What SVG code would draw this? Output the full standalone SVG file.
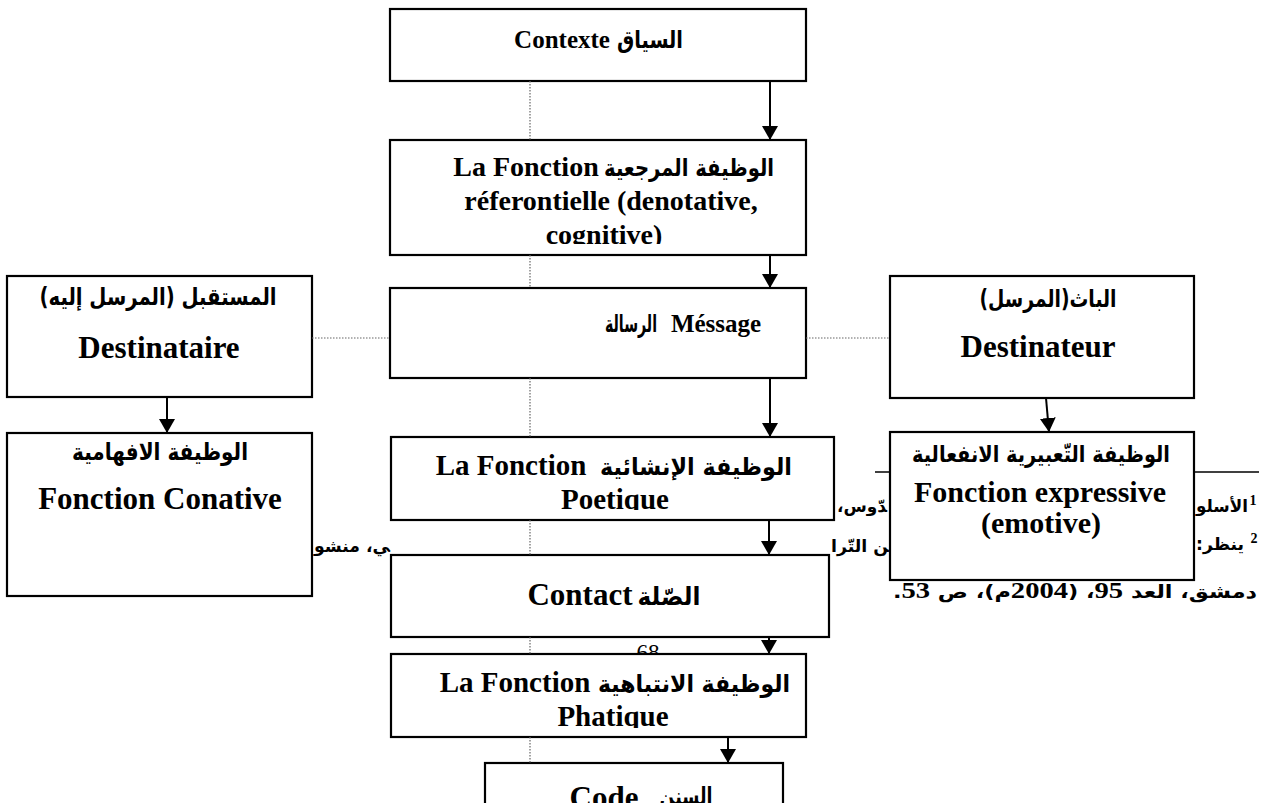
<svg xmlns="http://www.w3.org/2000/svg" width="1270" height="803" viewBox="0 0 1270 803">
  <style>
    .box { fill: #fff; stroke: #000; stroke-width: 2.2; }
    .lat { font-family: "Liberation Serif", "Times New Roman", serif; font-weight: bold; fill: #000; }
    .ar  { font-family: "DejaVu Sans", "Noto Sans", sans-serif; font-weight: bold; fill: #000; direction: rtl; }
    .arrow { stroke: #000; stroke-width: 2; fill: none; marker-end: url(#head); }
    .dots { stroke: #666; stroke-width: 1.2; stroke-dasharray: 1.5 1.5; fill: none; }
    .fn  { font-family: "DejaVu Sans", "Noto Sans", sans-serif; font-weight: bold; fill: #000; direction: rtl; }
    .fnum { font-family: "Liberation Serif", "Times New Roman", serif; font-weight: bold; }
  </style>
  <defs>
    <marker id="head" markerUnits="userSpaceOnUse" markerWidth="16" markerHeight="16" refX="14" refY="8" orient="auto">
      <path d="M0,0 L14,8 L0,16 z" fill="#000"/>
    </marker>
    <clipPath id="clipRef"><rect x="390" y="140" width="416" height="104"/></clipPath>
    <clipPath id="clipPoet"><rect x="391" y="437" width="443" height="73"/></clipPath>
    <clipPath id="clipPhat"><rect x="391" y="654" width="415" height="74"/></clipPath>
  </defs>

  <rect width="1270" height="803" fill="#fff"/>

  <!-- page footnotes and page number, lying under the frames -->
  <g id="footnotes">
    <line x1="875" y1="472" x2="1259" y2="472" stroke="#000" stroke-width="1.5"/>
    <text class="fnum" x="1253" y="505" font-size="14" text-anchor="middle">1</text>
    <text class="fn" x="1222" y="512" font-size="17" text-anchor="middle" textLength="52" lengthAdjust="spacingAndGlyphs">الأسلو</text>
    <text class="fn" x="862" y="512" font-size="17" text-anchor="middle" textLength="50" lengthAdjust="spacingAndGlyphs">&#x200D;دّوس،</text>
    <text class="fnum" x="1254" y="543" font-size="14" text-anchor="middle">2</text>
    <text class="fn" x="1220" y="550" font-size="17" text-anchor="middle" textLength="48" lengthAdjust="spacingAndGlyphs">ينظر:</text>
    <text class="fn" x="860" y="552" font-size="17" text-anchor="middle" textLength="58" lengthAdjust="spacingAndGlyphs">&#x200D;ن التّرا</text>
    <text class="fn" x="352" y="552" font-size="17" text-anchor="middle" textLength="76" lengthAdjust="spacingAndGlyphs">&#x200D;ي، منشو</text>
    <text class="fn" x="1075" y="598" font-size="18" text-anchor="middle" textLength="364" lengthAdjust="spacingAndGlyphs">دمشق، العد <tspan class="fnum" font-size="23">95</tspan>، (<tspan class="fnum" font-size="23">2004</tspan>م)، ص <tspan class="fnum" font-size="23">53</tspan>.</text>
    <text x="648" y="660" font-family="Liberation Serif, serif" font-size="23" text-anchor="middle">68</text>
  </g>

  <!-- nodes -->
  <g id="context">
    <rect class="box" x="390" y="9" width="416" height="72"/>
    <text class="lat" x="562" y="48" font-size="25" text-anchor="middle">Contexte</text>
    <text class="ar" x="650" y="48" font-size="24" text-anchor="middle" textLength="66" lengthAdjust="spacingAndGlyphs">السياق</text>
  </g>

  <g id="referential">
    <rect class="box" x="390" y="140" width="416" height="115"/>
    <g clip-path="url(#clipRef)">
      <text class="lat" x="526" y="176" font-size="28" text-anchor="middle">La Fonction</text>
      <text class="ar" x="689" y="176" font-size="24" text-anchor="middle" textLength="170" lengthAdjust="spacingAndGlyphs">الوظيفة المرجعية</text>
      <text class="lat" x="611" y="210" font-size="28" text-anchor="middle">réferontielle (denotative,</text>
      <text class="lat" x="604" y="244" font-size="28" text-anchor="middle">cognitive)</text>
    </g>
  </g>

  <g id="message">
    <rect class="box" x="390" y="288" width="416" height="90"/>
    <text class="ar" x="631" y="332" font-size="24" text-anchor="middle" textLength="52" lengthAdjust="spacingAndGlyphs">الرسالة</text>
    <text class="lat" x="716" y="332" font-size="25" text-anchor="middle">Méssage</text>
  </g>

  <g id="addressee">
    <rect class="box" x="7" y="276" width="305" height="121"/>
    <text class="ar" x="158" y="305" font-size="24" text-anchor="middle" textLength="237" lengthAdjust="spacingAndGlyphs">المستقبل (المرسل إليه)</text>
    <text class="lat" x="159" y="358" font-size="31" text-anchor="middle">Destinataire</text>
  </g>

  <g id="addresser">
    <rect class="box" x="890" y="276" width="304" height="122"/>
    <text class="ar" x="1048" y="307" font-size="24" text-anchor="middle" textLength="137" lengthAdjust="spacingAndGlyphs">الباث(المرسل)</text>
    <text class="lat" x="1038" y="357" font-size="31" text-anchor="middle">Destinateur</text>
  </g>

  <g id="conative">
    <rect class="box" x="7" y="433" width="305" height="163"/>
    <text class="ar" x="160" y="460" font-size="24" text-anchor="middle" textLength="176" lengthAdjust="spacingAndGlyphs">الوظيفة الافهامية</text>
    <text class="lat" x="160" y="509" font-size="31" text-anchor="middle">Fonction Conative</text>
  </g>

  <g id="emotive">
    <rect class="box" x="890" y="432" width="304" height="148"/>
    <text class="ar" x="1041" y="462" font-size="23" text-anchor="middle" textLength="258" lengthAdjust="spacingAndGlyphs">الوظيفة التّعبيرية الانفعالية</text>
    <text class="lat" x="1040" y="502" font-size="30" text-anchor="middle">Fonction expressive</text>
    <text class="lat" x="1041" y="533" font-size="30" text-anchor="middle">(emotive)</text>
  </g>

  <g id="poetic">
    <rect class="box" x="391" y="437" width="443" height="83"/>
    <g clip-path="url(#clipPoet)">
      <text class="lat" x="511" y="475" font-size="29" text-anchor="middle">La Fonction</text>
      <text class="ar" x="696" y="475" font-size="24" text-anchor="middle" textLength="192" lengthAdjust="spacingAndGlyphs">الوظيفة الإنشائية</text>
      <text class="lat" x="615" y="509" font-size="29" text-anchor="middle">Poetique</text>
    </g>
  </g>

  <g id="contact">
    <rect class="box" x="391" y="555" width="438" height="82"/>
    <text class="lat" x="580" y="605" font-size="31" text-anchor="middle">Contact</text>
    <text class="ar" x="669" y="605" font-size="25" text-anchor="middle" textLength="63" lengthAdjust="spacingAndGlyphs">الصّلة</text>
  </g>

  <g id="phatic">
    <rect class="box" x="391" y="654" width="415" height="83"/>
    <g clip-path="url(#clipPhat)">
      <text class="lat" x="515" y="692" font-size="29" text-anchor="middle">La Fonction</text>
      <text class="ar" x="694" y="692" font-size="24" text-anchor="middle" textLength="192" lengthAdjust="spacingAndGlyphs">الوظيفة الانتباهية</text>
      <text class="lat" x="613" y="726" font-size="29" text-anchor="middle">Phatique</text>
    </g>
  </g>

  <g id="code">
    <rect class="box" x="485" y="763" width="298" height="60"/>
    <text class="lat" x="604" y="808" font-size="31" text-anchor="middle">Code</text>
    <text class="ar" x="686" y="805" font-size="25" text-anchor="middle" textLength="53" lengthAdjust="spacingAndGlyphs">السنن</text>
  </g>

  <!-- connectors -->
  <g id="connectors">
    <path class="dots" d="M530,81 V140 M530,255 V288 M530,378 V437 M530,520 V555 M530,637 V654 M530,737 V763"/>
    <path class="dots" d="M312,338 H390 M806,338 H890"/>
    <line class="arrow" x1="770" y1="81" x2="770" y2="140"/>
    <line class="arrow" x1="770" y1="255" x2="770" y2="288"/>
    <line class="arrow" x1="770" y1="378" x2="770" y2="437"/>
    <line class="arrow" x1="769" y1="520" x2="769" y2="555"/>
    <line class="arrow" x1="769" y1="637" x2="769" y2="654"/>
    <line class="arrow" x1="728" y1="737" x2="728" y2="763"/>
    <line class="arrow" x1="167" y1="397" x2="167" y2="433"/>
    <line class="arrow" x1="1046" y1="398" x2="1049" y2="432"/>
  </g>
</svg>
